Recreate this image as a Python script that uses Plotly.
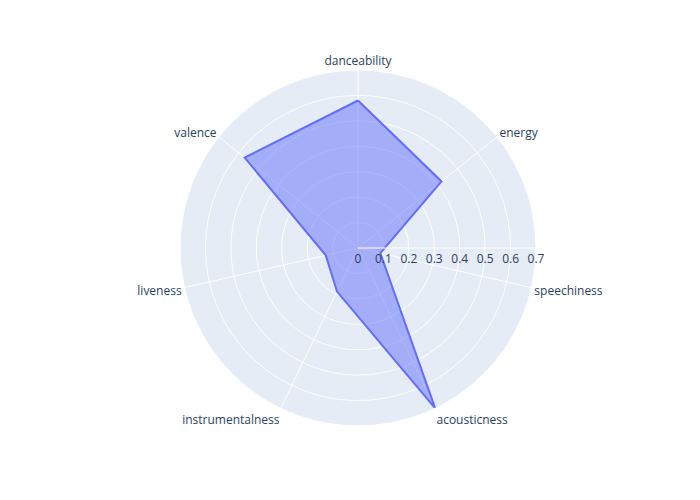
import plotly.graph_objects as go

features = ["danceability", "energy", "speechiness", "acousticness",
            "instrumentalness", "liveness", "valence"]
values = [0.58, 0.42, 0.09, 0.70, 0.19, 0.13, 0.57]

fig = go.Figure(
    go.Scatterpolar(
        r=values + values[:1],
        theta=features + features[:1],
        fill="toself",
        mode="lines",
        line=dict(color="#636efa"),
    )
)
fig.update_layout(
    width=700,
    height=500,
    margin=dict(t=62, b=82, l=80, r=80),
    polar=dict(angularaxis=dict(direction="clockwise", rotation=90)),
    showlegend=False,
)
fig.write_html("out.html")
